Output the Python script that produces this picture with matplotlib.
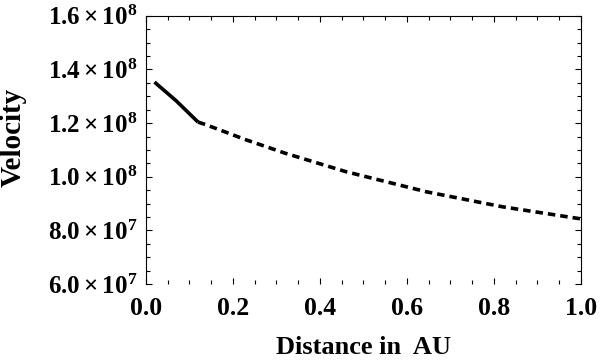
import numpy as np
import matplotlib
matplotlib.use("Agg")
import matplotlib.pyplot as plt
from matplotlib.ticker import MultipleLocator, FuncFormatter

plt.rcParams['font.family'] = ['Liberation Serif', 'DejaVu Serif']
plt.rcParams['font.weight'] = 'bold'
plt.rcParams['mathtext.fontset'] = 'custom'
plt.rcParams['mathtext.rm'] = 'Liberation Serif:bold'
plt.rcParams['mathtext.bf'] = 'Liberation Serif:bold'
plt.rcParams['mathtext.it'] = 'Liberation Serif:bold'
plt.rcParams['lines.scale_dashes'] = False

# inner part (solid) and outer part (dashed), distance in AU
solid_x = [0.02, 0.07, 0.12]
solid_v = [1.353e8, 1.283e8, 1.204e8]
dash_x = [0.12, 0.14, 0.23, 0.32, 0.46, 0.645, 0.82, 1.0]
dash_v = [1.204e8, 1.193e8, 1.138e8, 1.088e8, 1.019e8, 0.944e8, 0.888e8, 0.843e8]

x_ticks = [0.0, 0.2, 0.4, 0.6, 0.8, 1.0]
y_ticks = [6e7, 8e7, 1.0e8, 1.2e8, 1.4e8, 1.6e8]


def sci(v, pos=None):
    e = int(np.floor(np.log10(v)))
    m = v / 10 ** e
    return r'$%.1f\times10^{%d}$' % (m, e)


fig = plt.figure(figsize=(6, 3.6), dpi=100)
ax = fig.add_axes([0.243, 0.211, 0.725, 0.745])

ax.plot(solid_x, solid_v, color='black', lw=2.6, solid_capstyle='butt')
ax.plot(dash_x, dash_v, color='black', lw=2.6, linestyle=(0, (5.4, 3.6)),
        dash_capstyle='butt')

ax.set_xlim(0, 1.0)
ax.set_ylim(6e7, 1.6e8)
ax.set_xticks(x_ticks)
ax.set_yticks(y_ticks)
ax.xaxis.set_minor_locator(MultipleLocator(0.05))
ax.yaxis.set_minor_locator(MultipleLocator(5e6))
ax.xaxis.set_major_formatter(FuncFormatter(lambda v, p: '%.1f' % v))
ax.yaxis.set_major_formatter(FuncFormatter(sci))

ax.spines['bottom'].set_visible(False)
for s in ['left', 'top', 'right']:
    ax.spines[s].set_linewidth(0.8)

ax.tick_params(which='both', direction='in', top=True, right=True, width=0.8)
ax.tick_params(which='major', length=4.5)
ax.tick_params(which='minor', length=3)
ax.tick_params(axis='x', which='major', pad=9, labelsize=18.5)
ax.tick_params(axis='y', which='major', pad=6, labelsize=18)

ax.set_xlabel('Distance in  AU', fontsize=19, fontweight='bold', labelpad=12)
ax.set_ylabel('Velocity', fontsize=21, fontweight='bold')
ax.yaxis.set_label_coords(-0.275, 0.545)

fig.savefig('out.png', dpi=100)
